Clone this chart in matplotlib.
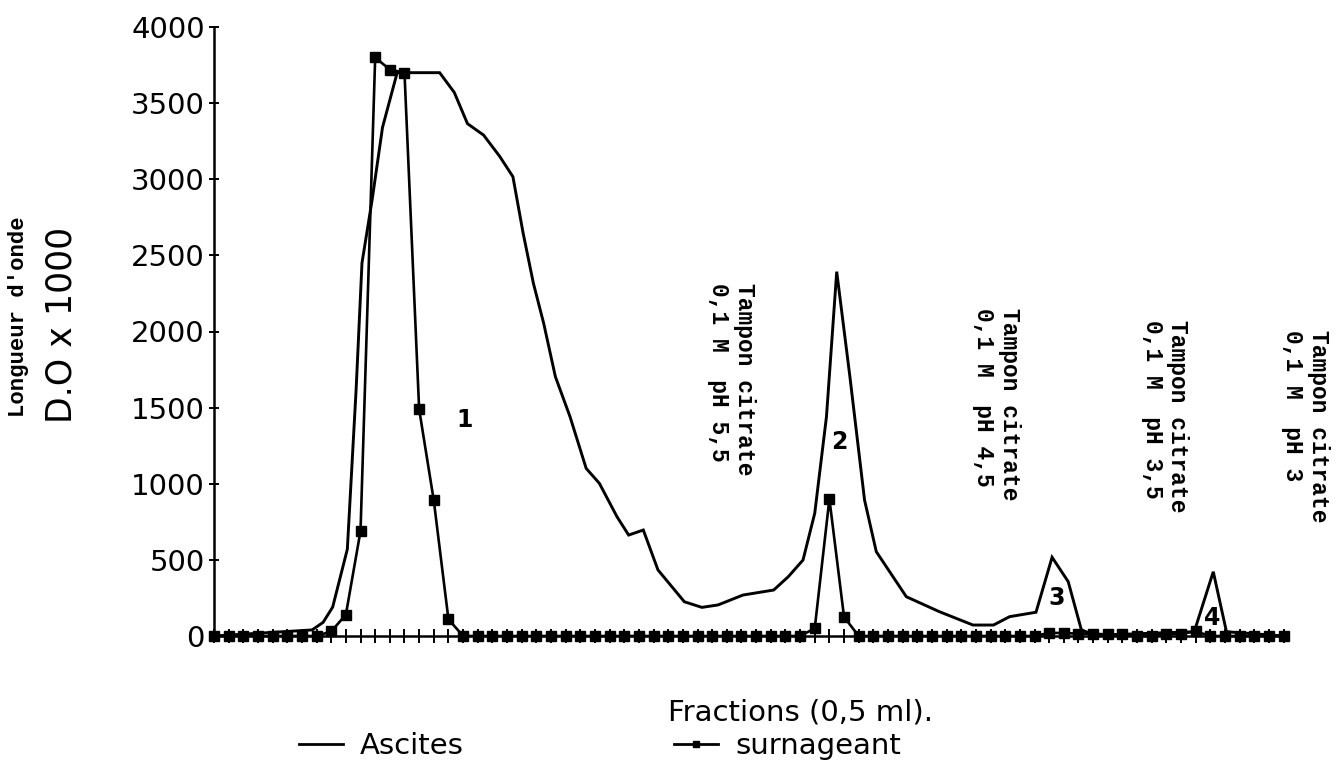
import matplotlib
matplotlib.use("Agg")
import matplotlib.pyplot as plt
from matplotlib.lines import Line2D

# ---------------- data ----------------
fractions = list(range(0, 74))

surnageant = [0, 0, 0, 0, 0, 0, 0, 0, 30, 140,
              690, 3800, 3720, 3700, 1490, 890, 110, 0, 0, 0,
              0, 0, 0, 0, 0, 0, 0, 0, 0, 0,
              0, 0, 0, 0, 0, 0, 0, 0, 0, 0,
              0, 50, 900, 125, 0, 0, 0, 0, 0, 0,
              0, 0, 0, 0, 0, 0, 0, 20, 20, 15,
              15, 10, 10, 0, 0, 10, 15, 30, 0, 0,
              0, 0, 0, 0]

ascites_x = [0, 6.7, 7.45, 8.1, 9.1, 9.7, 10.1, 10.8, 11.5, 12.5,
             15.4, 16.4, 17.3, 18.4, 19.5, 20.4, 21.1, 21.8, 22.5, 23.3,
             24.3, 25.4, 26.3, 27.5, 28.3, 29.3, 30.3, 32.1, 33.3, 34.4,
             36.1, 38.2, 39.2, 40.2, 41.0, 41.8, 42.5, 43.4, 44.4, 45.2,
             47.25, 49.5, 51.8, 53.2, 54.3, 56.1, 57.2, 58.3, 59.2, 60.2,
             66.9, 68.2, 69.1, 73]
ascites_y = [0, 40, 90, 190, 570, 1620, 2450, 2870, 3340, 3700,
             3700, 3570, 3365, 3290, 3150, 3017, 2645, 2316, 2054, 1703,
             1440, 1101, 1003, 784, 663, 696, 434, 225, 188, 204,
             269, 302, 390, 499, 806, 1440, 2393, 1703, 893, 554,
             258, 160, 72, 72, 127, 156, 517, 357, 39, 5,
             28, 422, 28, 0]

y_ticks = [0, 500, 1000, 1500, 2000, 2500, 3000, 3500, 4000]

buffer_labels = ["Tampon citrate\n0,1 M  pH 5,5",
                 "Tampon citrate\n0,1 M  pH 4,5",
                 "Tampon citrate\n0,1 M  pH 3,5",
                 "Tampon citrate\n0,1 M  pH 3"]
peak_labels = ["1", "2", "3", "4"]

# annotation positions (data coordinates)
buffer_pos = [(35.3, 2320), (53.4, 2155), (64.9, 2075), (74.5, 2010)]
peak_pos = [(17.1, 1420), (42.7, 1276), (57.5, 248), (68.1, 116)]

# ---------------- figure ----------------
W, H = 1341, 773
fig = plt.figure(figsize=(W / 100, H / 100), dpi=100)
ax = fig.add_axes([214 / W, 1 - 636 / H, (1288 - 214) / W, (636 - 27) / H])

ax.plot(ascites_x, ascites_y, color="black", lw=2.1, solid_joinstyle="miter",
        clip_on=False, label="Ascites")
ax.plot(fractions, surnageant, color="black", lw=1.9, marker="s", markersize=7,
        clip_on=False, label="surnageant")

ax.set_xlim(0, 73.3)
ax.set_ylim(0, 4000)
ax.set_xticks(fractions)
ax.set_xticklabels([])
ax.set_yticks(y_ticks)
ax.set_yticklabels([str(v) for v in y_ticks], fontsize=21, family="DejaVu Sans")

for s in ("top", "right"):
    ax.spines[s].set_visible(False)
for s in ("left", "bottom"):
    ax.spines[s].set_linewidth(1.8)
ax.tick_params(axis="x", direction="inout", length=10, width=1.4)
ax.tick_params(axis="y", direction="inout", length=7, width=1.4, pad=3)

ax.set_ylabel("D.O x 1000", fontsize=25, family="DejaVu Sans")
ax.yaxis.set_label_coords(-0.126, 0.51)
fig.text(19 / W, 1 - 317 / H, "Longueur d'onde", rotation=90, ha="center",
         va="center", fontsize=16, family="Liberation Mono", fontweight="bold")

for lab, (x, y) in zip(buffer_labels, buffer_pos):
    ax.text(x, y, lab, rotation=-90, ha="center", va="top", fontsize=16.5,
            family="Liberation Mono", fontweight="bold", linespacing=1.15,
            multialignment="left", clip_on=False)

for lab, (x, y) in zip(peak_labels, peak_pos):
    ax.text(x, y, lab, ha="center", va="center", fontsize=17,
            family="DejaVu Sans", fontweight="bold")

fig.text(800 / W, 1 - 712 / H, "Fractions (0,5 ml).", ha="center", va="center",
         fontsize=21, family="DejaVu Sans")

handles = [Line2D([], [], color="black", lw=2.0),
           Line2D([], [], color="black", lw=2.0, marker="s", markersize=5)]
fig.legend(handles, ["Ascites", "surnageant"], loc="center",
           bbox_to_anchor=(600 / W, 1 - 746 / H), ncol=2, frameon=False,
           handlelength=1.5, handletextpad=0.6, columnspacing=7.2,
           prop={"family": "DejaVu Sans", "size": 21})

fig.savefig("out.png", dpi=100)
